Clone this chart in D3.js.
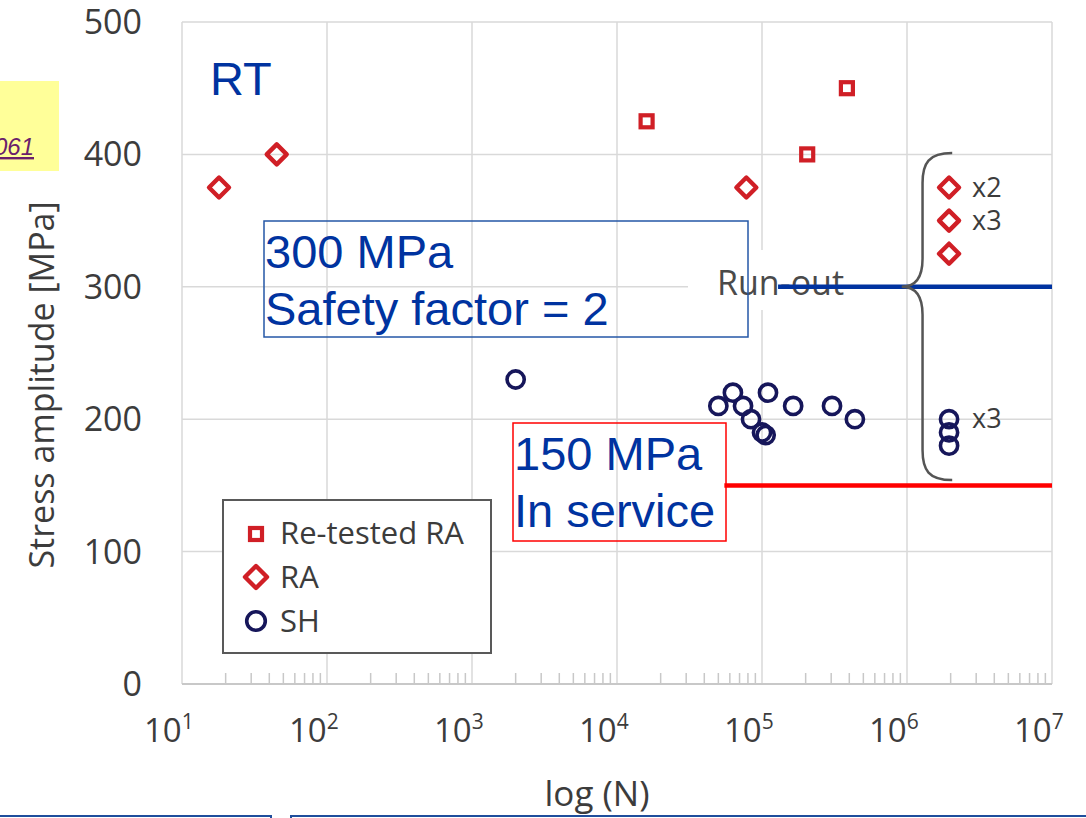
<!DOCTYPE html>
<html>
<head>
<meta charset="utf-8">
<script src="https://cdn.jsdelivr.net/npm/d3@7"></script>
<style>
  body { margin: 0; background: #fff; }
  svg { display: block; }
</style>
</head>
<body>
<div id="chart"></div>
<script>
// S-N data: [cycles N, stress amplitude MPa]
const retestedRA = [[16000, 425], [205000, 400], [385000, 450]]
const raPoints = [[18, 375], [45, 400], [78000, 375]]
const raRunout = [[1.95e6, 375], [1.95e6, 350], [1.95e6, 325]]
const shPoints = [[2000, 230], [50000, 210], [63000, 220], [74000, 210], [84000, 200],
  [100000, 190], [106000, 188], [110000, 220], [164000, 210], [304000, 210], [437000, 200]]
const shRunout = [[1.95e6, 200], [1.95e6, 190], [1.95e6, 180]]
const runoutCounts = [['x2', 375], ['x3', 350], ['x3', 200]]

// reference levels: [stress, N start, N end]
const safetyLine = [300, 1.29e5, 1e7]
const serviceLine = [150, 5.5e4, 1e7]

const xDecades = [1, 2, 3, 4, 5, 6, 7]
const yTicks = [0, 100, 200, 300, 400, 500]

const width = 1086
const height = 818
const red = '#d01f26'
const navy = '#16165a'
const blue = '#0033a0'
const textGray = '#3c3c3c'
const axisFont = '"Open Sans", "DejaVu Sans", sans-serif'
const boxFont = '"Liberation Sans", Arial, sans-serif'

const svg = d3.select('#chart')
  .append('svg')
  .attr('width', width)
  .attr('height', height)

const x = d3.scaleLog().domain([10, 1e7]).range([182, 1052])
const y = d3.scaleLinear().domain([0, 500]).range([684, 22])

// yellow note box at left edge
svg.append('rect')
  .attr('x', -2).attr('y', 81).attr('width', 61).attr('height', 90)
  .attr('fill', '#ffff99')
svg.append('text')
  .attr('x', 34).attr('y', 155)
  .attr('text-anchor', 'end')
  .attr('font-family', boxFont).attr('font-style', 'italic')
  .attr('font-size', 24).attr('fill', '#6b1f6b')
  .attr('text-decoration', 'underline')
  .text('061')

// grid
const grid = svg.append('g').attr('stroke', '#d9d9d9').attr('stroke-width', 1.5)
grid.selectAll('.hg').data(yTicks.slice(1)).enter().append('line')
  .attr('x1', x(10)).attr('x2', x(1e7))
  .attr('y1', d => y(d)).attr('y2', d => y(d))
grid.selectAll('.vg').data(xDecades).enter().append('line')
  .attr('x1', d => x(10 ** d)).attr('x2', d => x(10 ** d))
  .attr('y1', y(0)).attr('y2', y(500))

// bottom axis line and minor ticks
svg.append('line')
  .attr('x1', x(10)).attr('x2', x(1e7)).attr('y1', y(0)).attr('y2', y(0))
  .attr('stroke', '#c8c8c8').attr('stroke-width', 2)
const minor = []
xDecades.slice(0, -1).forEach(d => { for (let k = 2; k <= 9; k++) minor.push(k * 10 ** d) })
svg.append('g').selectAll('line').data(minor).enter().append('line')
  .attr('x1', d => x(d)).attr('x2', d => x(d))
  .attr('y1', y(0)).attr('y2', y(0) - 11)
  .attr('stroke', '#c8c8c8').attr('stroke-width', 1.5)

// y tick labels
svg.append('g').selectAll('text').data(yTicks).enter().append('text')
  .attr('x', 142).attr('y', d => y(d) + 12)
  .attr('text-anchor', 'end')
  .attr('font-family', axisFont).attr('font-size', 34).attr('fill', textGray)
  .text(d => d)

// x tick labels 10^n
const xl = svg.append('g').selectAll('text').data(xDecades).enter().append('text')
  .attr('x', d => x(10 ** d) - 38).attr('y', 742)
  .attr('font-family', axisFont).attr('fill', textGray)
xl.append('tspan').attr('font-size', 33).text('10')
xl.append('tspan').attr('font-size', 21).attr('dy', -13).text(d => d)

// axis titles
svg.append('text')
  .attr('transform', 'translate(54,385) rotate(-90)')
  .attr('text-anchor', 'middle')
  .attr('font-family', axisFont).attr('font-size', 34).attr('fill', textGray)
  .text('Stress amplitude [MPa]')
svg.append('text')
  .attr('x', 597).attr('y', 806)
  .attr('text-anchor', 'middle')
  .attr('font-family', axisFont).attr('font-size', 35).attr('fill', textGray)
  .text('log (N)')

// marker helpers
const diamond = s => `M0,${-s}L${s},0L0,${s}L${-s},0Z`

function drawSquares(g, data, s) {
  g.selectAll('rect').data(data).enter().append('rect')
    .attr('x', d => x(d[0]) - s / 2).attr('y', d => y(d[1]) - s / 2)
    .attr('width', s).attr('height', s)
    .attr('fill', 'none').attr('stroke', red).attr('stroke-width', 4.2)
}
function drawDiamonds(g, data, s) {
  g.selectAll('path').data(data).enter().append('path')
    .attr('transform', d => `translate(${x(d[0])},${y(d[1])})`)
    .attr('d', diamond(s))
    .attr('fill', 'none').attr('stroke', red).attr('stroke-width', 4.4)
    .attr('stroke-linejoin', 'round')
}
function drawCircles(g, data, r) {
  g.selectAll('circle').data(data).enter().append('circle')
    .attr('cx', d => x(d[0])).attr('cy', d => y(d[1])).attr('r', r)
    .attr('fill', 'none').attr('stroke', navy).attr('stroke-width', 3.6)
}

// Run-out label with white background
svg.append('rect')
  .attr('x', 688).attr('y', 250).attr('width', 195).attr('height', 60)
  .attr('fill', '#fff')
svg.append('text')
  .attr('x', 717).attr('y', 295)
  .attr('font-family', axisFont).attr('font-size', 34).attr('fill', '#4a4a4a')
  .text('Run-out')

// reference lines
svg.append('line')
  .attr('x1', x(safetyLine[1])).attr('x2', x(safetyLine[2]))
  .attr('y1', y(safetyLine[0])).attr('y2', y(safetyLine[0]))
  .attr('stroke', blue).attr('stroke-width', 4.5)
svg.append('line')
  .attr('x1', x(serviceLine[1])).attr('x2', x(serviceLine[2]))
  .attr('y1', y(serviceLine[0])).attr('y2', y(serviceLine[0]))
  .attr('stroke', '#ff0000').attr('stroke-width', 4.5)

// data markers
drawSquares(svg.append('g'), retestedRA, 12)
drawDiamonds(svg.append('g'), raPoints.concat(raRunout), 10)
drawCircles(svg.append('g'), shPoints.concat(shRunout), 8.6)

// curly brace around run-outs
const bx0 = x(9.2e5), bx1 = x(1.28e6), bx2 = x(2.05e6)
const by0 = y(401), byM = y(300), by1 = y(154)
svg.append('path')
  .attr('d', `M${bx2},${by0} C${bx1 + 6},${by0} ${bx1},${by0 + 10} ${bx1},${by0 + 30}
    L${bx1},${byM - 28} C${bx1},${byM - 8} ${bx1 - 8},${byM} ${bx0},${byM}
    C${bx1 - 8},${byM} ${bx1},${byM + 8} ${bx1},${byM + 28}
    L${bx1},${by1 - 30} C${bx1},${by1 - 10} ${bx1 + 6},${by1} ${bx2},${by1}`)
  .attr('fill', 'none').attr('stroke', '#555').attr('stroke-width', 2.5)

svg.append('g').selectAll('text').data(runoutCounts).enter().append('text')
  .attr('x', 972).attr('y', d => y(d[1]) + 9)
  .attr('font-family', axisFont).attr('font-size', 27).attr('fill', textGray)
  .text(d => d[0])

// RT label
svg.append('text')
  .attr('x', 210).attr('y', 95)
  .attr('font-family', boxFont).attr('font-size', 47).attr('fill', blue)
  .text('RT')

// annotation boxes
function noteBox(bx, by, bw, bh, stroke, lines) {
  svg.append('rect')
    .attr('x', bx).attr('y', by).attr('width', bw).attr('height', bh)
    .attr('fill', 'none').attr('stroke', stroke).attr('stroke-width', 1.5)
  svg.append('g').selectAll('text').data(lines).enter().append('text')
    .attr('x', bx + 1).attr('y', (d, i) => by + 47 + i * 57)
    .attr('font-family', boxFont).attr('font-size', 47).attr('fill', blue)
    .text(d => d)
}
noteBox(264, 221, 484, 116, '#2557a7', ['300 MPa', 'Safety factor = 2'])
noteBox(513, 423, 213, 118, '#ff0000', ['150 MPa', 'In service'])

// legend
const legend = svg.append('g')
legend.append('rect')
  .attr('x', 223).attr('y', 500).attr('width', 268).attr('height', 153)
  .attr('fill', '#fff').attr('stroke', '#595959').attr('stroke-width', 2)
const legendItems = ['Re-tested RA', 'RA', 'SH']
legend.selectAll('text').data(legendItems).enter().append('text')
  .attr('x', 280).attr('y', (d, i) => 544 + i * 44)
  .attr('font-family', axisFont).attr('font-size', 31).attr('fill', textGray)
  .text(d => d)
legend.append('rect')
  .attr('x', 250).attr('y', 528).attr('width', 12).attr('height', 12)
  .attr('fill', 'none').attr('stroke', red).attr('stroke-width', 4.2)
legend.append('path')
  .attr('transform', 'translate(256,577)').attr('d', diamond(11))
  .attr('fill', 'none').attr('stroke', red).attr('stroke-width', 4.4).attr('stroke-linejoin', 'round')
legend.append('circle')
  .attr('cx', 256).attr('cy', 621).attr('r', 9.3)
  .attr('fill', 'none').attr('stroke', navy).attr('stroke-width', 3.6)

// tops of the boxes below the chart
svg.append('rect').attr('x', -5).attr('y', 816).attr('width', 276).attr('height', 20)
  .attr('fill', 'none').attr('stroke', '#1f4e9c').attr('stroke-width', 2)
svg.append('rect').attr('x', 291).attr('y', 816).attr('width', 820).attr('height', 20)
  .attr('fill', 'none').attr('stroke', '#1f4e9c').attr('stroke-width', 2)
</script>
</body>
</html>
